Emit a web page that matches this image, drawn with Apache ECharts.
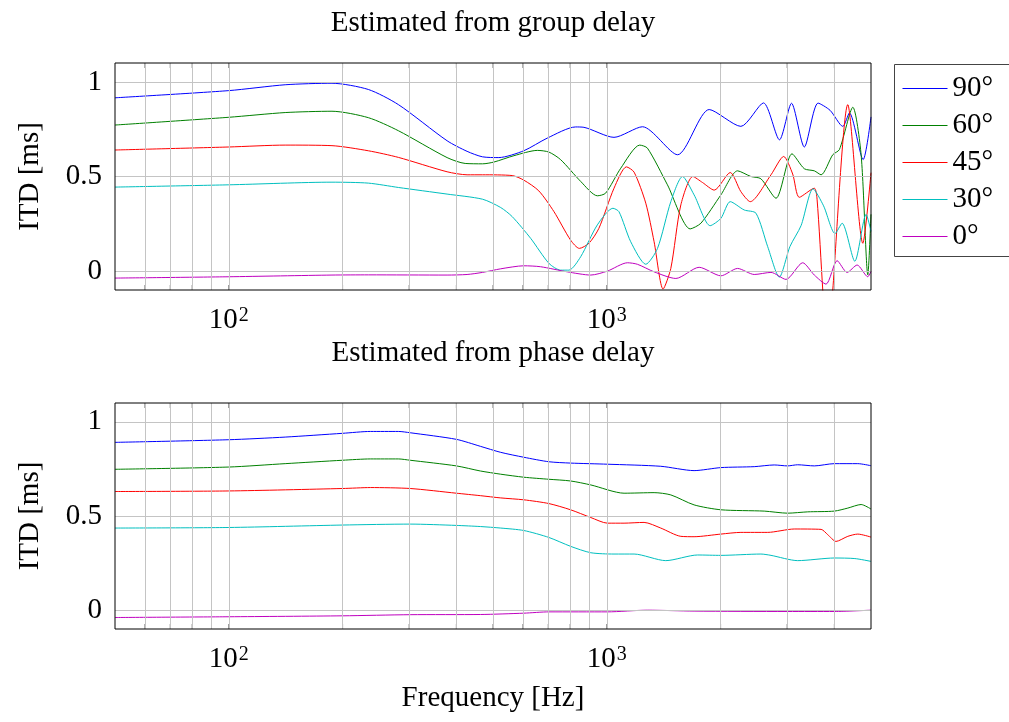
<!DOCTYPE html>
<html><head><meta charset="utf-8">
<script src="https://cdn.jsdelivr.net/npm/echarts@6/dist/echarts.min.js"></script>
<style>html,body{margin:0;padding:0;background:#fff}#c{width:1009px;height:722px}</style>
</head><body><div id="c"></div>
<script>
// ---------- Data (frequency in Hz, ITD in ms) ----------
const names = ['90°', '60°', '45°', '30°', '0°'];
const colors = ['#0000ff', '#008000', '#ff0000', '#00bfbf', '#bf00bf'];
const titles = ['Estimated from group delay', 'Estimated from phase delay'];
const gridFreqs = [60, 70, 80, 90, 100, 200, 300, 400, 500, 600, 700, 800, 900, 1000, 2000, 3000, 4000];
const yTicks = [0, 0.5, 1];

// Group delay panel
const g90_f = [50, 100, 141, 187.5, 234, 281, 378, 427, 469, 518, 603, 696, 827, 870, 1045, 1243, 1539, 1866, 2263, 2597, 2863, 3081, 3331, 3622, 3896, 4211, 4384, 4766, 5000];
const g90_v = [0.916, 0.954, 0.985, 0.993, 0.96, 0.88, 0.689, 0.633, 0.604, 0.60, 0.636, 0.703, 0.762, 0.76, 0.707, 0.763, 0.615, 0.854, 0.765, 0.889, 0.694, 0.887, 0.656, 0.888, 0.85, 0.765, 0.836, 0.589, 0.815];
const g60_f = [50, 100, 141, 187.5, 234, 281, 378, 422, 469, 502, 568, 655, 703, 755, 853, 944, 993, 1089, 1222, 1281, 1447, 1662, 1774, 2004, 2218, 2406, 2557, 2803, 3090, 3331, 3540, 3689, 3961, 4124, 4476, 4708, 4904, 5000];
const g60_v = [0.772, 0.813, 0.838, 0.845, 0.811, 0.742, 0.60, 0.569, 0.567, 0.576, 0.61, 0.638, 0.629, 0.589, 0.474, 0.398, 0.412, 0.544, 0.666, 0.65, 0.456, 0.223, 0.253, 0.403, 0.53, 0.50, 0.488, 0.385, 0.62, 0.541, 0.53, 0.509, 0.615, 0.642, 0.866, 0.615, -0.02, 0.30];
const g45_f = [50, 100, 141, 187.5, 234, 281, 378, 427, 469, 562, 603, 661, 725, 802, 846, 897, 953, 1045, 1127, 1181, 1268, 1334, 1409, 1477, 1570, 1689, 1792, 1924, 2121, 2263, 2396, 2719, 2937, 3103, 3230, 3540, 3600, 3727, 3840, 3961, 4341, 4757, 5000];
const g45_v = [0.64, 0.656, 0.666, 0.663, 0.636, 0.601, 0.525, 0.509, 0.509, 0.505, 0.481, 0.424, 0.314, 0.164, 0.12, 0.147, 0.226, 0.438, 0.551, 0.523, 0.359, 0.155, -0.095, 0.014, 0.35, 0.50, 0.468, 0.428, 0.521, 0.42, 0.367, 0.509, 0.606, 0.513, 0.39, 0.438, 0.38, -0.1, -0.5, -0.1, 0.88, 0.147, 0.52];
const g30_f = [50, 100, 187.5, 234, 281, 378, 469, 524, 562, 629, 703, 755, 794, 853, 944, 1038, 1077, 1157, 1268, 1362, 1477, 1586, 1702, 1877, 2004, 2121, 2310, 2481, 2665, 2860, 3052, 3265, 3512, 3745, 4017, 4193, 4530, 4853, 5000];
const g30_v = [0.444, 0.456, 0.470, 0.465, 0.442, 0.407, 0.38, 0.336, 0.288, 0.173, 0.041, 0.005, 0.005, 0.076, 0.244, 0.332, 0.314, 0.155, 0.036, 0.12, 0.367, 0.50, 0.403, 0.24, 0.279, 0.367, 0.323, 0.306, 0.129, -0.032, 0.13, 0.24, 0.435, 0.345, 0.198, 0.253, 0.052, 0.30, 0.21];
const g0_f = [50, 100, 187.5, 234, 378, 427, 469, 524, 603, 668, 786, 907, 1004, 1134, 1205, 1334, 1523, 1755, 2004, 2218, 2455, 2719, 2979, 3298, 3540, 3802, 4067, 4323, 4595, 4904, 5000];
const g0_v = [-0.037, -0.030, -0.021, -0.020, -0.021, -0.018, -0.007, 0.012, 0.028, 0.023, -0.004, -0.021, 0.0, 0.044, 0.036, -0.004, -0.039, 0.02, -0.025, 0.014, -0.018, -0.007, -0.044, 0.044, -0.021, -0.069, 0.055, -0.007, 0.032, -0.03, 0.0];

// Phase delay panel
const p90_f = [50, 100, 141, 200, 237, 281, 302, 400, 463, 524, 603, 703, 802, 1004, 1389, 1702, 2004, 2455, 2773, 3008, 3199, 3540, 3999, 4613, 5000];
const p90_v = [0.891, 0.905, 0.919, 0.939, 0.949, 0.949, 0.942, 0.907, 0.87, 0.838, 0.812, 0.788, 0.781, 0.775, 0.764, 0.741, 0.757, 0.762, 0.771, 0.766, 0.772, 0.766, 0.778, 0.778, 0.767];
const p60_f = [50, 100, 141, 200, 237, 281, 302, 400, 463, 524, 603, 703, 802, 907, 1111, 1334, 1477, 1702, 2004, 2609, 3008, 3401, 3999, 4341, 4708, 5000];
const p60_v = [0.748, 0.760, 0.778, 0.796, 0.803, 0.803, 0.796, 0.766, 0.739, 0.722, 0.706, 0.695, 0.686, 0.665, 0.621, 0.624, 0.612, 0.559, 0.533, 0.526, 0.515, 0.522, 0.526, 0.542, 0.561, 0.537];
const p45_f = [50, 100, 200, 237, 302, 400, 463, 524, 603, 703, 802, 907, 1004, 1111, 1255, 1389, 1570, 1702, 2004, 2263, 2665, 3133, 3689, 3841, 4041, 4341, 4613, 5000];
const p45_v = [0.630, 0.633, 0.646, 0.651, 0.646, 0.621, 0.608, 0.596, 0.586, 0.566, 0.533, 0.492, 0.462, 0.462, 0.466, 0.436, 0.392, 0.39, 0.404, 0.413, 0.413, 0.431, 0.429, 0.401, 0.365, 0.392, 0.404, 0.388];
const p30_f = [50, 100, 200, 302, 400, 463, 524, 603, 703, 802, 907, 1045, 1181, 1432, 1738, 2004, 2557, 2719, 3199, 3999, 4532, 5000];
const p30_v = [0.436, 0.439, 0.452, 0.457, 0.45, 0.444, 0.436, 0.423, 0.386, 0.339, 0.305, 0.298, 0.298, 0.263, 0.293, 0.291, 0.298, 0.291, 0.263, 0.277, 0.274, 0.259];
const p0_f = [50, 100, 200, 302, 463, 603, 703, 1004, 1281, 1702, 3008, 3999, 5000];
const p0_v = [-0.039, -0.035, -0.030, -0.024, -0.023, -0.016, -0.009, -0.009, 0.0, -0.005, -0.007, -0.007, 0.0];

// ---------- Chart ----------
const FONT = 'Liberation Serif';
const FS = 29;
const Y_MIN = -0.1, Y_MAX = 1.1;
const pairs = (f, v) => f.map((x, i) => [x, v[i]]);
const panels = [
  [[g90_f, g90_v], [g60_f, g60_v], [g45_f, g45_v], [g30_f, g30_v], [g0_f, g0_v]],
  [[p90_f, p90_v], [p60_f, p60_v], [p45_f, p45_v], [p30_f, p30_v], [p0_f, p0_v]]
];
const gridBoxes = [{ top: 63, height: 227 }, { top: 403, height: 226 }];

const txt = (size) => ({ fontFamily: FONT, fontSize: size, color: '#000', fontWeight: 'normal' });
const supLabel = (v) => {
  const e = Math.log10(v);
  if (Math.abs(e - 2) < 1e-6) return '{n|10}{s|2}';
  if (Math.abs(e - 3) < 1e-6) return '{n|10}{s|3}';
  return '';
};
const supRich = {
  n: { fontFamily: FONT, fontSize: FS, lineHeight: 34, color: '#000', verticalAlign: 'bottom' },
  s: { fontFamily: FONT, fontSize: 20, lineHeight: 20, color: '#000', verticalAlign: 'top', padding: [5, 0, 0, 1] }
};

const grid = gridBoxes.map(b => ({
  left: 115, width: 756, top: b.top, height: b.height,
  show: true, borderColor: '#000', borderWidth: 1, backgroundColor: 'transparent', z: 10
}));

const yTick = { show: true, inside: true, length: 5, customValues: yTicks, lineStyle: { color: '#777' } };

const xAxis = [];
const yAxis = [];
[0, 1].forEach(i => {
  xAxis.push({
    type: 'log', logBase: 10, min: 50, max: 5000, gridIndex: i, position: 'bottom',
    axisLine: { show: false }, axisTick: { show: false }, splitLine: { show: false },
    axisLabel: { margin: 11, formatter: supLabel, rich: supRich, showMinLabel: false, showMaxLabel: false },
    name: i === 1 ? 'Frequency [Hz]' : '',
    nameLocation: 'middle', nameGap: 55, nameTextStyle: txt(FS)
  });
  yAxis.push({
    type: 'value', min: Y_MIN, max: Y_MAX, gridIndex: i, position: 'left',
    axisLine: { show: false }, splitLine: { show: false }, axisTick: yTick,
    axisLabel: Object.assign(txt(FS), { margin: 13, customValues: yTicks, formatter: v => String(v) }),
    name: 'ITD [ms]', nameLocation: 'middle', nameRotate: 90, nameGap: 70, nameTextStyle: txt(FS)
  });
});
[0, 1].forEach(i => {
  yAxis.push({
    type: 'value', min: Y_MIN, max: Y_MAX, gridIndex: i, position: 'right',
    axisLine: { show: false }, splitLine: { show: false }, axisLabel: { show: false }, axisTick: yTick
  });
});

const series = [];
[0, 1].forEach(i => {
  // grid lines
  series.push({
    type: 'line', xAxisIndex: i, yAxisIndex: i, data: [], z: 1, silent: true,
    markLine: {
      silent: true, symbol: ['none', 'none'], label: { show: false }, animation: false,
      emphasis: { disabled: true },
      lineStyle: { color: '#c4c4c4', width: 1, type: 'solid' },
      data: gridFreqs.map(f => ({ xAxis: f })).concat(yTicks.map(v => ({ yAxis: v })))
    }
  });
  // inner tick marks at top and bottom frame
  series.push({
    type: 'custom', xAxisIndex: i, yAxisIndex: i, z: 2, silent: true, clip: false,
    data: gridFreqs.map(f => [f, 0]), encode: { x: 0, y: 1 },
    renderItem: (params, api) => {
      const f = api.value(0);
      const t = api.coord([f, Y_MAX]);
      const b = api.coord([f, Y_MIN]);
      const st = { stroke: '#777', lineWidth: 1 };
      return { type: 'group', children: [
        { type: 'line', shape: { x1: t[0], y1: t[1], x2: t[0], y2: t[1] + 5 }, style: st },
        { type: 'line', shape: { x1: b[0], y1: b[1], x2: b[0], y2: b[1] - 5 }, style: st }
      ] };
    }
  });
  panels[i].forEach((s, k) => {
    series.push({
      type: 'line', name: names[k], xAxisIndex: i, yAxisIndex: i,
      data: pairs(s[0], s[1]), showSymbol: false, symbol: 'none',
      smooth: 0.25, clip: true, z: 3,
      lineStyle: { width: 1, color: colors[k] }, itemStyle: { color: colors[k] },
      emphasis: { disabled: true }
    });
  });
});

const chart = echarts.init(document.getElementById('c'), null, { renderer: 'canvas' });
chart.setOption({
  animation: false,
  backgroundColor: '#fff',
  title: [
    { text: titles[0], left: 493, top: 9, textAlign: 'center', padding: 0, textStyle: txt(FS) },
    { text: titles[1], left: 493, top: 339, textAlign: 'center', padding: 0, textStyle: txt(FS) }
  ],
  legend: {
    data: names, orient: 'vertical', left: 894.5, top: 64.5,
    padding: [9, 24, 5, 8], itemGap: 7, itemWidth: 45, itemHeight: 1, icon: 'rect',
    borderColor: '#444', borderWidth: 1,
    textStyle: Object.assign(txt(FS), { lineHeight: 30 })
  },
  grid, xAxis, yAxis, series
});
</script>
</body></html>
